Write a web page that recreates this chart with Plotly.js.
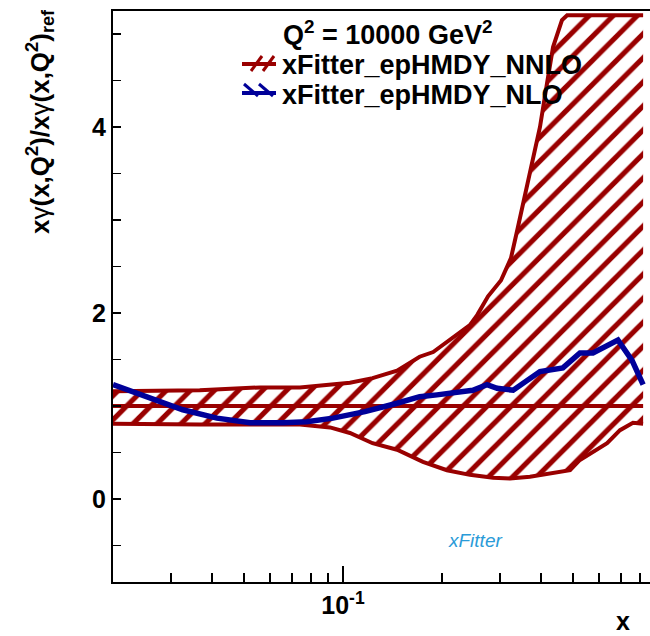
<!DOCTYPE html>
<html>
<head>
<meta charset="utf-8">
<script src="https://cdn.plot.ly/plotly-3.0.1.min.js"></script>
<style>html,body{margin:0;padding:0;background:#fff;}#chart{width:650px;height:636px;}</style>
</head>
<body>
<div id="chart"></div>
<script>
// NNLO band, upper edge
const xUpper = [0.0200, 0.0367, 0.056, 0.074, 0.105, 0.123, 0.146, 0.171, 0.188, 0.211, 0.243, 0.256, 0.276, 0.302, 0.324, 0.340, 0.370, 0.397, 0.417, 0.435, 0.463, 0.480, 0.817];
const upper  = [1.16, 1.17, 1.20, 1.20, 1.25, 1.30, 1.38, 1.53, 1.58, 1.71, 1.87, 1.98, 2.18, 2.35, 2.59, 2.92, 3.51, 4.00, 4.47, 4.86, 5.15, 5.20, 5.20];
// NNLO band, lower edge
const xLower = [0.0200, 0.0367, 0.074, 0.0913, 0.105, 0.123, 0.146, 0.175, 0.207, 0.243, 0.286, 0.322, 0.370, 0.426, 0.490, 0.525, 0.635, 0.695, 0.761, 0.817];
const lower  = [0.81, 0.80, 0.80, 0.77, 0.71, 0.60, 0.53, 0.40, 0.31, 0.26, 0.23, 0.22, 0.24, 0.28, 0.31, 0.42, 0.60, 0.74, 0.82, 0.81];
// NNLO central (reference) line
const xRef = [0.0200, 0.817];
const refVal = [1.0, 1.0];
// NLO ratio
const xNLO = [0.0200, 0.0259, 0.0326, 0.0414, 0.0522, 0.0657, 0.0777, 0.0932, 0.1166, 0.146, 0.171, 0.193, 0.222, 0.248, 0.274, 0.294, 0.329, 0.397, 0.466, 0.525, 0.575, 0.617, 0.685, 0.756, 0.817];
const nlo  = [1.23, 1.09, 0.96, 0.87, 0.82, 0.82, 0.83, 0.87, 0.94, 1.03, 1.10, 1.12, 1.14, 1.17, 1.23, 1.19, 1.17, 1.37, 1.41, 1.57, 1.57, 1.62, 1.71, 1.49, 1.23];
// labels
const qLabel = "Q<sup>2</sup> = 10000 GeV<sup>2</sup>";
const seriesNames = ["xFitter_epHMDY_NNLO", "xFitter_epHMDY_NLO"];
const xTickVals = [0.1];
const xTickText = ["10<sup>-1</sup>"];
const xMinorVals = [0.03,0.04,0.05,0.06,0.07,0.08,0.09,0.2,0.3,0.4,0.5,0.6,0.7,0.8];
const yTickVals = [0, 2, 4];

const RED = '#990000', BLUE = '#000099';
const FONT = 'Liberation Sans, Arial, Helvetica, sans-serif';

// plot area geometry (pixels)
const L = 113, T = 11, W = 537, H = 571;
const px = v => (v - L) / W;
const py = v => (T + H - v) / H;

const bandX = xUpper.concat(xLower.slice().reverse());
const bandY = upper.concat(lower.slice().reverse());

const traces = [
  {x: bandX, y: bandY, mode: 'none', fill: 'toself', fillcolor: 'rgba(0,0,0,0)',
   fillpattern: {shape: '/', fgcolor: RED, bgcolor: 'rgba(0,0,0,0)', size: 17, solidity: 0.3},
   showlegend: false, hoverinfo: 'skip'},
  {x: xUpper, y: upper, mode: 'lines', line: {color: RED, width: 4}, showlegend: false},
  {x: xLower, y: lower, mode: 'lines', line: {color: RED, width: 4}, showlegend: false},
  {x: xRef, y: refVal, mode: 'lines', line: {color: RED, width: 4}, showlegend: false},
  {x: xNLO, y: nlo, mode: 'lines', line: {color: BLUE, width: 5.5}, showlegend: false}
];

const shapes = [
  // legend symbols
  {type: 'line', xref: 'paper', yref: 'paper', x0: px(242), x1: px(276), y0: py(64), y1: py(64), line: {color: RED, width: 4}},
  {type: 'line', xref: 'paper', yref: 'paper', x0: px(251), x1: px(262), y0: py(71), y1: py(56), line: {color: RED, width: 3}},
  {type: 'line', xref: 'paper', yref: 'paper', x0: px(263), x1: px(274), y0: py(71), y1: py(56), line: {color: RED, width: 3}},
  {type: 'line', xref: 'paper', yref: 'paper', x0: px(242), x1: px(276), y0: py(93), y1: py(93), line: {color: BLUE, width: 4}},
  {type: 'line', xref: 'paper', yref: 'paper', x0: px(244), x1: px(258), y0: py(84), y1: py(96), line: {color: BLUE, width: 3}},
  {type: 'line', xref: 'paper', yref: 'paper', x0: px(259), x1: px(273), y0: py(84), y1: py(96), line: {color: BLUE, width: 3}}
];

const annotations = [
  {xref: 'paper', yref: 'paper', x: px(281), y: py(33), xanchor: 'left', yanchor: 'middle', showarrow: false,
   text: qLabel, font: {family: FONT, size: 27, color: '#000', weight: 'bold'}},
  {xref: 'paper', yref: 'paper', x: px(280), y: py(65), xanchor: 'left', yanchor: 'middle', showarrow: false,
   text: seriesNames[0], font: {family: FONT, size: 27, color: '#000', weight: 'bold'}},
  {xref: 'paper', yref: 'paper', x: px(280), y: py(95), xanchor: 'left', yanchor: 'middle', showarrow: false,
   text: seriesNames[1], font: {family: FONT, size: 27, color: '#000', weight: 'bold'}},
  {xref: 'paper', yref: 'paper', x: px(40), y: py(122), xanchor: 'center', yanchor: 'middle', showarrow: false, textangle: -90,
   text: 'x<span style="font-weight:normal">γ</span>(x,Q<sup>2</sup>)/x<span style="font-weight:normal">γ</span>(x,Q<sup>2</sup>)<sub>ref</sub>',
   font: {family: FONT, size: 26, color: '#000', weight: 'bold'}},
  {xref: 'paper', yref: 'paper', x: px(623), y: py(621), xanchor: 'center', yanchor: 'middle', showarrow: false,
   text: 'x', font: {family: FONT, size: 25, color: '#000', weight: 'bold'}},
  {xref: 'paper', yref: 'paper', x: px(475), y: py(540), xanchor: 'center', yanchor: 'middle', showarrow: false,
   text: '<i>xFitter</i>', font: {family: FONT, size: 19, color: '#2a9bd8'}}
];

const layout = {
  width: 650, height: 636,
  margin: {l: L, r: 0, t: T, b: 636 - T - H},
  paper_bgcolor: '#fff', plot_bgcolor: '#fff',
  showlegend: false,
  xaxis: {
    type: 'log', range: [Math.log10(0.02), -1 + 307/329],
    showgrid: false, zeroline: false,
    showline: true, linecolor: '#000', linewidth: 2, mirror: true,
    ticks: 'inside', ticklen: 16, tickwidth: 1.5, tickcolor: '#000',
    tickmode: 'array', tickvals: xTickVals, ticktext: xTickText,
    tickfont: {family: FONT, size: 25, color: '#000', weight: 'bold'},
    minor: {tickmode: 'array', tickvals: xMinorVals, ticks: 'inside', ticklen: 9, tickwidth: 1.5, tickcolor: '#000', showgrid: false}
  },
  yaxis: {
    range: [-0.892, 5.247],
    showgrid: false, zeroline: false,
    showline: true, linecolor: '#000', linewidth: 2,
    ticks: 'inside', ticklen: 8, tickwidth: 1.5, tickcolor: '#000',
    tickmode: 'array', tickvals: yTickVals,
    tickfont: {family: FONT, size: 25, color: '#000', weight: 'bold'},
    minor: {dtick: 0.5, ticks: 'inside', ticklen: 8, tickwidth: 1.5, tickcolor: '#000', showgrid: false}
  },
  shapes: shapes,
  annotations: annotations
};

Plotly.newPlot('chart', traces, layout, {displayModeBar: false, staticPlot: true});
</script>
</body>
</html>
